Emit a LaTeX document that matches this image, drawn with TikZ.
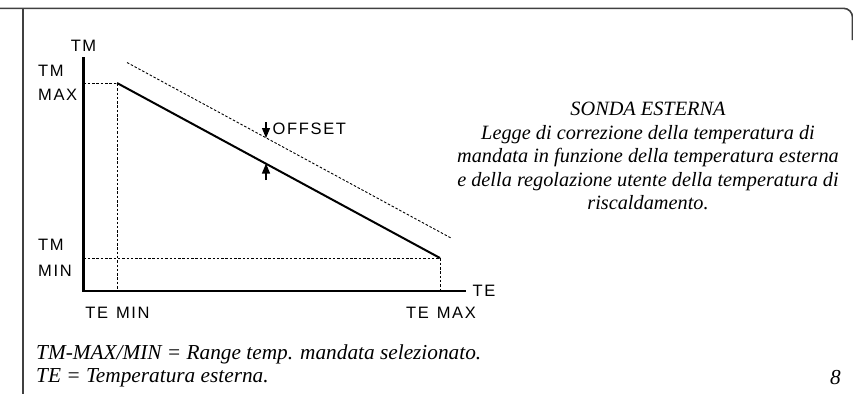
\documentclass[tikz,border=0pt]{standalone}
\usepackage{fontspec}
\setmainfont{Liberation Serif}
\newfontfamily\cadfont[LetterSpace=10]{Liberation Sans}
\newfontfamily\capfont{Liberation Serif}
\newfontfamily\notefont{Liberation Serif}
\usetikzlibrary{arrows.meta}
\definecolor{framegray}{HTML}{404040}
\begin{document}
\begin{tikzpicture}[x=1pt,y=-1pt,
  frameline/.style={draw=framegray,line width=1.6pt},
  axisline/.style={draw=black,line width=2.4pt},
  curveline/.style={draw=black,line width=2pt},
  guideline/.style={draw=black,line width=0.9pt,dash pattern=on 2.5pt off 1.8pt},
  offsetarrow/.style={draw=black,line width=1.2pt,-{Triangle[length=10pt,width=8pt]}},
  cadlabel/.style={font=\cadfont\fontsize{16.5}{17}\selectfont,inner sep=0pt},
  captext/.style={font=\capfont\itshape\fontsize{20.3}{23.5}\selectfont,align=center,inner sep=0pt},
  notetext/.style={font=\notefont\itshape\fontsize{21.3}{23}\selectfont,inner sep=0pt,anchor=west}]
\useasboundingbox (0,0) rectangle (853,394);
% frame
\draw[frameline,rounded corners=9pt] (0,8.3) -- (852.5,8.3) -- (852.5,40);
\draw[frameline] (22.7,8.3) -- (22.7,394);
% key points
\coordinate (O) at (83.5,291);
\coordinate (Ytop) at (83.5,57);
\coordinate (Xend) at (466,291);
\coordinate (P1) at (117,83);
\coordinate (P2) at (440,258);
\coordinate (Q1) at (127,62.5);
\coordinate (Q2) at (451,238);
\coordinate (Ymax) at (83.5,83);
\coordinate (Ymin) at (83.5,258);
\coordinate (Xmin) at (117,291);
\coordinate (Xmax) at (440,291);
\coordinate (Atop) at (266,122);
\coordinate (Atip1) at (266,138);
\coordinate (Abot) at (266,180);
\coordinate (Atip2) at (266,163.5);
% guides
\draw[guideline] (Ymax) -- (P1) -- (Xmin);
\draw[guideline] (Ymin) -- (P2) -- (Xmax);
\draw[guideline] (Q1) -- (Q2);
% axes
\draw[axisline] (Ytop) -- (O) -- (Xend);
% characteristic line
\draw[curveline] (P1) -- (P2);
% offset arrows
\draw[offsetarrow] (Atop) -- (Atip1);
\draw[offsetarrow] (Abot) -- (Atip2);
% labels
\node[cadlabel] (tm) at (83.5,46) {TM};
\node[cadlabel] (te) at (484,291) {TE};
\node[cadlabel,anchor=west] (tmmax1) at (38,70.5) {TM};
\node[cadlabel,anchor=west] (tmmax2) at (38,95) {MAX};
\node[cadlabel,anchor=west] (tmmin1) at (38,245) {TM};
\node[cadlabel,anchor=west] (tmmin2) at (38,271) {MIN};
\node[cadlabel] (temin) at (117.5,312.5) {TE\hspace{8pt}MIN};
\node[cadlabel] (temax) at (441,312.5) {TE\hspace{8pt}MAX};
\node[cadlabel,anchor=west] (offs) at (272.5,128.5) {OFFSET};
% caption
\node[captext] (cap) at (648,156) {SONDA ESTERNA\\Legge di correzione della temperatura di\\mandata in funzione della temperatura esterna\\e della regolazione utente della temperatura di\\riscaldamento.};
% notes
\node[notetext] (n1) at (36,354) {TM-MAX/MIN = Range temp. mandata selezionato.};
\node[notetext] (n2) at (36,378) {TE = Temperatura esterna.};
\node[notetext,anchor=east] (pg) at (841,378) {8};
\end{tikzpicture}
\end{document}
